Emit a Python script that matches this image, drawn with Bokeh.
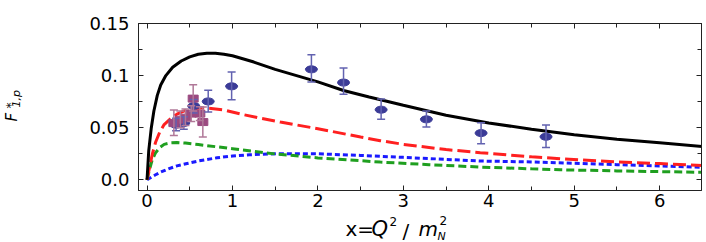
from bokeh.plotting import figure
from bokeh.models import (Range1d, LinearAxis, FixedTicker, Whisker,
                          TeeHead, ColumnDataSource, GridBox)
from bokeh.core.properties import value
from bokeh.embed import file_html
from bokeh.resources import INLINE
import math

# ---------------- data ----------------
x_black = [0, 0.02, 0.05, 0.08, 0.12, 0.16, 0.22, 0.3, 0.4, 0.5, 0.6, 0.7, 0.8,
           0.9, 1.0, 1.25, 1.5, 1.75, 2.0, 2.3, 2.6, 3.0, 3.5, 4.0, 4.5, 5.0,
           5.5, 6.0, 6.5]
y_black = [0.0, 0.028, 0.05, 0.066, 0.081, 0.091, 0.100, 0.108, 0.114, 0.118,
           0.1205, 0.1215, 0.1215, 0.1205, 0.119, 0.113, 0.106, 0.100, 0.094,
           0.0857, 0.0795, 0.0715, 0.062, 0.0545, 0.0485, 0.0433, 0.039,
           0.0355, 0.032]

x_red = [0, 0.03, 0.06, 0.1, 0.15, 0.2, 0.28, 0.35, 0.45, 0.55, 0.65, 0.75, 0.9,
         1.1, 1.3, 1.56, 2.0, 2.5, 2.73, 3.0, 3.5, 3.9, 4.5, 4.84, 5.5, 6.0, 6.5]
y_red = [0.0, 0.012, 0.024, 0.036, 0.046, 0.053, 0.059, 0.063, 0.0665, 0.0685,
         0.069, 0.0685, 0.067, 0.063, 0.0595, 0.0554, 0.049, 0.041, 0.0375,
         0.034, 0.029, 0.026, 0.022, 0.0202, 0.0172, 0.0155, 0.0138]

x_green = [0, 0.03, 0.06, 0.1, 0.15, 0.2, 0.28, 0.35, 0.45, 0.6, 0.8, 1.0, 1.25,
           1.5, 2.0, 2.73, 3.3, 3.9, 4.5, 4.84, 5.5, 6.0, 6.5]
y_green = [0.0, 0.010, 0.019, 0.026, 0.031, 0.034, 0.0355, 0.0358, 0.0352,
           0.0338, 0.0318, 0.0298, 0.0272, 0.0248, 0.021, 0.017, 0.0145,
           0.0122, 0.0105, 0.0096, 0.0085, 0.0078, 0.0072]

x_blue = [0, 0.05, 0.1, 0.158, 0.25, 0.35, 0.47, 0.6, 0.82, 1.0, 1.2, 1.44, 1.7,
          2.0, 2.5, 3.0, 3.5, 3.9, 4.5, 5.0, 5.5, 6.0, 6.5]
y_blue = [0.0, 0.0025, 0.0048, 0.0073, 0.0105, 0.0133, 0.0156, 0.018, 0.0211,
          0.0228, 0.024, 0.0248, 0.0251, 0.0249, 0.0234, 0.0215, 0.0196,
          0.018, 0.0171, 0.0158, 0.0145, 0.0132, 0.012]

# blue data points
bx = [0.34, 0.43, 0.547, 0.716, 0.99, 1.924, 2.30, 2.74, 3.27, 3.91, 4.67]
by = [0.0529, 0.0545, 0.0708, 0.0752, 0.0897, 0.106, 0.0933, 0.0673, 0.058,
      0.0448, 0.0413]
b_lo = [0.047, 0.0485, 0.064, 0.065, 0.0769, 0.0938, 0.082, 0.058, 0.0506,
        0.0346, 0.031]
b_hi = [0.059, 0.0605, 0.077, 0.0859, 0.1035, 0.120, 0.1073, 0.0775, 0.066,
        0.0548, 0.0525]

# purple data points
mx = [0.314, 0.39, 0.45, 0.517, 0.54, 0.618, 0.653]
my = [0.0544, 0.0577, 0.0596, 0.0635, 0.0779, 0.0635, 0.0554]
m_lo = [0.0426, 0.050, 0.052, 0.056, 0.066, 0.057, 0.041]
m_hi = [0.067, 0.066, 0.068, 0.071, 0.0913, 0.070, 0.0698]

x_ticks = [0, 1, 2, 3, 4, 5, 6]
x_minor = [0.5, 1.5, 2.5, 3.5, 4.5, 5.5, 6.5]
y_ticks = [0, 0.05, 0.1, 0.15]
y_minor = [0.025, 0.075, 0.125]
y_tick_labels = ["0.0", "0.05", "0.1", "0.15"]

# ---------------- layout (page pixels) ----------------
W, H = 706, 242
YLAB_W = 25          # strip holding the y-axis title
MAIN_H = 215         # main figure height
FL, FR, FT, FB = 138, 701, 23, 190   # frame edges on the page

FONT = "DejaVu Sans"

p = figure(width=W - YLAB_W, height=MAIN_H,
           x_range=Range1d(-0.1, 6.49), y_range=Range1d(-0.0103, 0.15),
           output_backend="svg", toolbar_location=None, title_location=None,
           min_border_left=FL - YLAB_W, min_border_right=W - FR,
           min_border_top=FT, min_border_bottom=MAIN_H - FB)
p.grid.visible = False
p.outline_line_color = "#222222"
p.outline_line_width = 1
p.background_fill_color = "white"
p.border_fill_color = "white"


def style_axis(ax, ticks, minor, show_labels, overrides=None):
    ax.ticker = FixedTicker(ticks=ticks, minor_ticks=minor)
    ax.major_tick_in = 5
    ax.major_tick_out = 0
    ax.minor_tick_in = 4
    ax.minor_tick_out = 0
    ax.axis_line_color = "#222222"
    ax.major_tick_line_color = "#222222"
    ax.minor_tick_line_color = "#222222"
    if show_labels:
        ax.major_label_text_font = FONT
        ax.major_label_text_font_size = "18px"
        ax.major_label_text_color = "black"
        if overrides:
            ax.major_label_overrides = overrides
    else:
        ax.major_label_overrides = {t: "" for t in ticks}
        ax.major_label_text_font_size = "1px"
        ax.major_label_standoff = 0


style_axis(p.xaxis[0], x_ticks, x_minor, True)
p.xaxis[0].major_label_standoff = 3
style_axis(p.yaxis[0], y_ticks, y_minor, True,
           {t: s for t, s in zip(y_ticks, y_tick_labels)})
p.yaxis[0].major_label_standoff = 9

top = LinearAxis()
style_axis(top, x_ticks, x_minor, False)
p.add_layout(top, "above")
right = LinearAxis()
style_axis(right, y_ticks, y_minor, False)
p.add_layout(right, "right")

# ---------------- curves ----------------
p.line(x_blue, y_blue, line_color="#1a1aff", line_width=3, line_dash="5 3")
p.line(x_green, y_green, line_color="#1f9f1f", line_width=3, line_dash="8 4")
p.line(x_red, y_red, line_color="#ff2020", line_width=3, line_dash="13 5")
p.line(x_black, y_black, line_color="black", line_width=3)

# ---------------- data points ----------------
bsrc = ColumnDataSource(dict(x=bx, y=by, lo=b_lo, hi=b_hi))
msrc = ColumnDataSource(dict(x=mx, y=my, lo=m_lo, hi=m_hi))

bcol_err = "#6262b0"
mcol_err = "#b07898"
wb = Whisker(base="x", upper="hi", lower="lo", source=bsrc, dimension="height",
             line_color=bcol_err, line_width=1.5,
             upper_head=TeeHead(size=8, line_color=bcol_err, line_width=1.5),
             lower_head=TeeHead(size=8, line_color=bcol_err, line_width=1.5))
wb.level = "glyph"
p.add_layout(wb)
p.ellipse(x="x", y="y", width=12, height=7, width_units="screen",
          height_units="screen", source=bsrc, fill_color="#3b3b97",
          line_color="#3b3b97")

wm = Whisker(base="x", upper="hi", lower="lo", source=msrc, dimension="height",
             line_color=mcol_err, line_width=1.5,
             upper_head=TeeHead(size=8, line_color=mcol_err, line_width=1.5),
             lower_head=TeeHead(size=8, line_color=mcol_err, line_width=1.5))
wm.level = "glyph"
p.add_layout(wm)
p.rect(x="x", y="y", width=10, height=7, width_units="screen",
       height_units="screen", source=msrc, fill_color="#9b4a80",
       line_color="#9b4a80")


# ---------------- axis titles in their own text strips ----------------
def strip(width, height):
    f = figure(width=width, height=height, x_range=Range1d(0, 1),
               y_range=Range1d(0, 1), output_backend="svg",
               toolbar_location=None, title_location=None,
               min_border=0, min_border_left=0, min_border_right=0,
               min_border_top=0, min_border_bottom=0,
               x_axis_location=None, y_axis_location=None)
    f.grid.visible = False
    f.outline_line_color = None
    f.background_fill_color = "white"
    f.border_fill_color = "white"
    return f


SHIFT = 0.33   # measured baseline drift of rendered text, in em (text "down")


def put(f, frame_left, frame_top, text, px, py, size, italic=False, rotated=False):
    # anchored at the strip frame's top-left corner, moved by pixel offsets
    if rotated:
        px -= SHIFT * size
    else:
        py -= SHIFT * size
    f.text(x=[0], y=[1], x_offset=px - frame_left, y_offset=py - frame_top,
           text=[text], angle=math.pi / 2 if rotated else 0.0,
           text_font=value(FONT), text_font_size=value(f"{size}px"),
           text_font_style="italic" if italic else "normal",
           text_color="black", text_align="left", text_baseline="alphabetic")


ystrip = strip(YLAB_W, MAIN_H)       # its frame is aligned with p's: top = FT
put(ystrip, 0, FT, "F", 16.5, 121, 15, italic=True, rotated=True)
put(ystrip, 0, FT, "*", 14, 108, 12, rotated=True)
put(ystrip, 0, FT, "1,p", 20, 107, 11, italic=True, rotated=True)

xstrip = strip(W, H - MAIN_H)        # its frame starts at the strip top
put(xstrip, 0, MAIN_H, "x=", 345, 235.5, 20)
put(xstrip, 0, MAIN_H, "Q", 371, 235.5, 21, italic=True)
put(xstrip, 0, MAIN_H, "2", 389, 224.5, 12)
put(xstrip, 0, MAIN_H, "/", 402, 237, 20)
put(xstrip, 0, MAIN_H, "m", 418, 235.5, 20, italic=True)
put(xstrip, 0, MAIN_H, "2", 439, 224, 12)
put(xstrip, 0, MAIN_H, "N", 437, 239.5, 11, italic=True)

layout = GridBox(children=[(ystrip, 0, 0), (p, 0, 1), (xstrip, 1, 0, 1, 2)],
                 spacing=0)

open("out.html", "w").write(file_html(layout, INLINE))
